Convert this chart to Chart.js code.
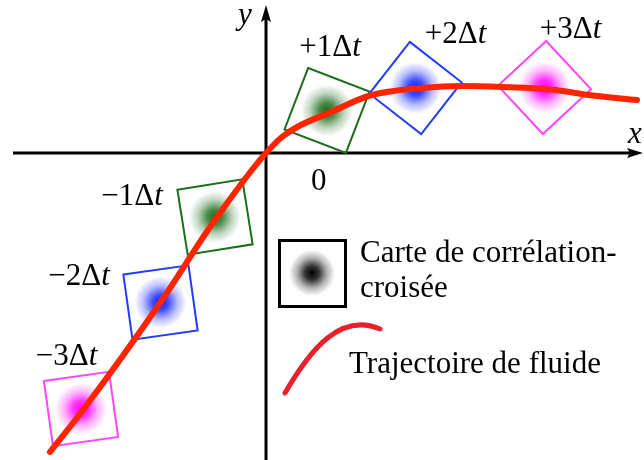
<!DOCTYPE html>
<html>
<head>
<meta charset="utf-8">
<script src="https://cdn.jsdelivr.net/npm/chart.js@4/dist/chart.umd.min.js"></script>
<style>
  html, body { margin: 0; padding: 0; background: #fff; }
  #wrap { width: 644px; height: 460px; position: relative; }
</style>
</head>
<body>
<div id="wrap"><canvas id="chart"></canvas></div>
<script>
// fluid trajectory, origin = crossing of the axes
const pathX = [-4.32, -3.66, -2.12, -1.16, -0.66, -0.36, 0, 0.32, 0.64, 1.28, 2.08, 3.12, 3.92, 4.72, 5.78, 6.46, 7.42];
const pathY = [-5.98, -5.14, -3.00, -1.54, -0.84, -0.44, 0, 0.32, 0.53, 0.81, 1.15, 1.30, 1.34, 1.32, 1.26, 1.16, 1.06];

// cross-correlation windows, one per time step
const steps = ['−3', '−2', '−1', '+1', '+2', '+3'];
const winX = [-3.70, -2.11, -1.02, 1.22, 2.99, 5.57];
const winY = [-5.12, -2.99, -1.28, 0.85, 1.30, 1.31];

// where the step labels sit (centre, baseline)
const tagX = [-3.99, -3.74, -2.68, 1.28, 3.79, 6.09];
const tagY = [-4.24, -2.64, -1.04, 1.94, 2.20, 2.30];

const FONT = '"Liberation Serif", "Times New Roman", serif';
const blobRGB = ['255,0,255', '16,32,255', '30,110,30', '30,110,30', '16,32,255', '255,0,255'];
const frameCol = ['#ff44ff', '#1f3cff', '#1b6e1b', '#1b6e1b', '#1f3cff', '#ff44ff'];

function blob(ctx, x, y, r, rgb) {
  ctx.save();
  const g = ctx.createRadialGradient(x, y, 0, x, y, r);
  g.addColorStop(0, 'rgba(' + rgb + ',1)');
  g.addColorStop(0.3, 'rgba(' + rgb + ',0.8)');
  g.addColorStop(0.65, 'rgba(' + rgb + ',0.3)');
  g.addColorStop(1, 'rgba(' + rgb + ',0)');
  ctx.fillStyle = g;
  ctx.beginPath();
  ctx.arc(x, y, r, 0, Math.PI * 2);
  ctx.fill();
  ctx.restore();
}

// gaussian spots inside each window, under the frames
const spots = {
  id: 'spots',
  beforeDatasetsDraw(chart) {
    const meta = chart.getDatasetMeta(1);
    meta.data.forEach((pt, i) => blob(chart.ctx, pt.x, pt.y, 26, blobRGB[i]));
  }
};

// arrowed axes, step tags and the legend
const deco = {
  id: 'deco',
  beforeDatasetsDraw(chart) {
    const ctx = chart.ctx;
    const sx = chart.scales.x, sy = chart.scales.y;
    const ox = sx.getPixelForValue(0), oy = sy.getPixelForValue(0);
    ctx.save();
    ctx.strokeStyle = '#000';
    ctx.fillStyle = '#000';
    ctx.lineWidth = 3;
    ctx.beginPath();
    ctx.moveTo(13, oy); ctx.lineTo(632, oy);
    ctx.moveTo(ox, chart.height); ctx.lineTo(ox, 14);
    ctx.stroke();
    // arrow heads
    ctx.beginPath();
    ctx.moveTo(643, oy); ctx.lineTo(627, oy - 5); ctx.lineTo(630, oy); ctx.lineTo(627, oy + 5);
    ctx.closePath(); ctx.fill();
    ctx.beginPath();
    ctx.moveTo(ox, 5); ctx.lineTo(ox - 5, 22); ctx.lineTo(ox, 19); ctx.lineTo(ox + 5, 22);
    ctx.closePath(); ctx.fill();
    ctx.restore();
  },
  afterDraw(chart) {
    const ctx = chart.ctx;
    const sx = chart.scales.x, sy = chart.scales.y;
    const ox = sx.getPixelForValue(0), oy = sy.getPixelForValue(0);
    ctx.save();
    ctx.fillStyle = '#000';
    ctx.textBaseline = 'alphabetic';
    ctx.textAlign = 'left';

    // axis names and origin
    ctx.font = 'italic 31px ' + FONT;
    ctx.fillText('y', ox - 28, 24);
    ctx.fillText('x', 628, oy - 10);
    ctx.font = '31px ' + FONT;
    ctx.fillText('0', ox + 45, oy + 37);

    // step tags like +1Δt
    steps.forEach((s, i) => {
      const head = s + 'Δ';
      ctx.font = '31px ' + FONT;
      const w1 = ctx.measureText(head).width;
      ctx.font = 'italic 31px ' + FONT;
      const w2 = ctx.measureText('t').width;
      const x = sx.getPixelForValue(tagX[i]) - (w1 + w2) / 2;
      const y = sy.getPixelForValue(tagY[i]);
      ctx.font = '31px ' + FONT;
      ctx.fillText(head, x, y);
      ctx.font = 'italic 31px ' + FONT;
      ctx.fillText('t', x + w1, y);
    });

    // legend: correlation map swatch
    blob(ctx, 312, 273, 23, '0,0,0');
    ctx.strokeStyle = '#000';
    ctx.lineWidth = 3;
    ctx.strokeRect(279.5, 240.5, 66, 66);
    ctx.fillStyle = '#000';
    ctx.font = '31px ' + FONT;
    ctx.fillText('Carte de corrélation-', 360, 262);
    ctx.fillText('croisée', 360, 297);

    // legend: trajectory swatch
    ctx.strokeStyle = '#e8202a';
    ctx.lineWidth = 5;
    ctx.lineCap = 'round';
    ctx.beginPath();
    ctx.moveTo(285, 393);
    ctx.bezierCurveTo(310, 350, 340, 312, 380, 329);
    ctx.stroke();
    ctx.fillText('Trajectoire de fluide', 349, 373);
    ctx.restore();
  }
};

const pathPts = pathX.map((x, i) => ({ x: x, y: pathY[i] }));
const winPts = winX.map((x, i) => ({ x: x, y: winY[i] }));

new Chart(document.getElementById('chart'), {
  type: 'scatter',
  data: {
    datasets: [
      {
        label: 'Trajectoire de fluide',
        data: pathPts,
        showLine: true,
        cubicInterpolationMode: 'monotone',
        borderColor: '#ff2400',
        borderWidth: 6,
        borderCapStyle: 'round',
        pointRadius: 0,
        clip: false,
        order: 1
      },
      {
        label: 'Carte de corrélation-croisée',
        data: winPts,
        pointStyle: 'rect',
        pointRadius: 46.5,
        pointRotation: [-8, -8, -9, 21, 38, 47],
        pointBorderColor: frameCol,
        pointBackgroundColor: 'rgba(0,0,0,0)',
        pointBorderWidth: 2,
        pointHoverRadius: 46.5,
        clip: false,
        order: 2
      }
    ]
  },
  options: {
    responsive: true,
    maintainAspectRatio: false,
    animation: false,
    events: [],
    layout: { padding: 0, autoPadding: false },
    plugins: { legend: { display: false }, tooltip: { enabled: false } },
    scales: {
      x: { type: 'linear', display: false, min: -5.32, max: 7.56 },
      y: { type: 'linear', display: false, min: -6.14, max: 3.06 }
    }
  },
  plugins: [deco, spots]
});
</script>
</body>
</html>
